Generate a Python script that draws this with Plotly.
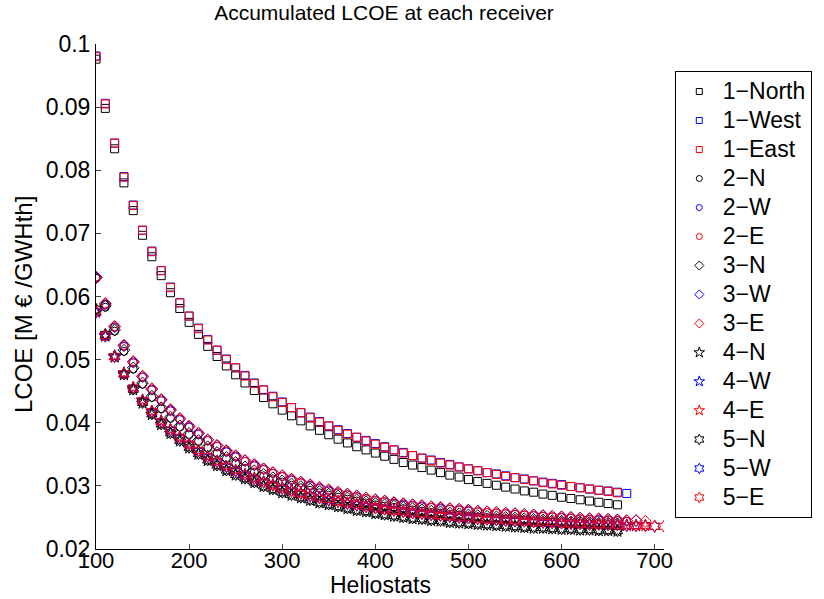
import plotly.graph_objects as go

HELIOSTATS = [100, 110, 120, 130, 140, 150, 160, 170, 180, 190,
              200, 210, 220, 230, 240, 250, 260, 270, 280, 290,
              300, 310, 320, 330, 340, 350, 360, 370, 380, 390,
              400, 410, 420, 430, 440, 450, 460, 470, 480, 490,
              500, 510, 520, 530, 540, 550, 560, 570, 580, 590,
              600, 610, 620, 630, 640, 650, 660, 670, 680, 690,
              700, 710]

r1_north = [0.0976, 0.0898, 0.0834, 0.0780, 0.0736, 0.0697, 0.0663, 0.0633, 0.0606, 0.0581,
            0.0559, 0.0540, 0.0521, 0.0505, 0.0490, 0.0476, 0.0463, 0.0451, 0.0440, 0.0430,
            0.0420, 0.0411, 0.0403, 0.0395, 0.0388, 0.0381, 0.0374, 0.0368, 0.0362, 0.0357,
            0.0352, 0.0347, 0.0342, 0.0337, 0.0333, 0.0329, 0.0325, 0.0321, 0.0317, 0.0314,
            0.0310, 0.0307, 0.0304, 0.0301, 0.0298, 0.0295, 0.0292, 0.0290, 0.0287, 0.0285,
            0.0282, 0.0280, 0.0278, 0.0276, 0.0274, 0.0272, 0.0270]
r1_west = [0.0981, 0.0906, 0.0843, 0.0790, 0.0745, 0.0705, 0.0672, 0.0641, 0.0615, 0.0590,
           0.0569, 0.0550, 0.0532, 0.0515, 0.0501, 0.0487, 0.0475, 0.0463, 0.0452, 0.0442,
           0.0433, 0.0424, 0.0416, 0.0409, 0.0402, 0.0395, 0.0389, 0.0383, 0.0377, 0.0372,
           0.0367, 0.0362, 0.0357, 0.0353, 0.0348, 0.0344, 0.0341, 0.0337, 0.0334, 0.0330,
           0.0327, 0.0324, 0.0321, 0.0319, 0.0316, 0.0313, 0.0311, 0.0308, 0.0306, 0.0304,
           0.0302, 0.0299, 0.0297, 0.0295, 0.0293, 0.0292, 0.0290, 0.0288]
r1_east = [0.0980, 0.0905, 0.0843, 0.0789, 0.0744, 0.0705, 0.0671, 0.0641, 0.0614, 0.0590,
           0.0569, 0.0549, 0.0531, 0.0515, 0.0500, 0.0487, 0.0474, 0.0462, 0.0452, 0.0441,
           0.0432, 0.0424, 0.0416, 0.0408, 0.0401, 0.0395, 0.0388, 0.0382, 0.0377, 0.0371,
           0.0366, 0.0361, 0.0357, 0.0352, 0.0348, 0.0344, 0.0340, 0.0336, 0.0333, 0.0330,
           0.0327, 0.0324, 0.0321, 0.0318, 0.0315, 0.0313, 0.0310, 0.0308, 0.0305, 0.0303,
           0.0301, 0.0299, 0.0297, 0.0295, 0.0293, 0.0291, 0.0289]

r2_n = [0.0629, 0.0583, 0.0545, 0.0513, 0.0485, 0.0461, 0.0440, 0.0422, 0.0407, 0.0393,
        0.0381, 0.0370, 0.0360, 0.0351, 0.0343, 0.0335, 0.0328, 0.0322, 0.0316, 0.0311,
        0.0306, 0.0301, 0.0297, 0.0293, 0.0289, 0.0285, 0.0282, 0.0279, 0.0276, 0.0273,
        0.0270, 0.0268, 0.0266, 0.0264, 0.0262, 0.0260, 0.0258, 0.0257, 0.0255, 0.0254,
        0.0252, 0.0251, 0.0250, 0.0249, 0.0248, 0.0247, 0.0246, 0.0245, 0.0244, 0.0243,
        0.0242, 0.0241, 0.0241, 0.0240, 0.0239, 0.0239, 0.0238]
r2_w = [0.0630, 0.0587, 0.0551, 0.0521, 0.0495, 0.0472, 0.0452, 0.0435, 0.0419, 0.0405,
        0.0393, 0.0382, 0.0372, 0.0363, 0.0354, 0.0346, 0.0339, 0.0332, 0.0326, 0.0320,
        0.0315, 0.0309, 0.0305, 0.0300, 0.0296, 0.0292, 0.0289, 0.0286, 0.0283, 0.0280,
        0.0277, 0.0275, 0.0272, 0.0270, 0.0269, 0.0267, 0.0266, 0.0264, 0.0263, 0.0262,
        0.0260, 0.0259, 0.0258, 0.0257, 0.0256, 0.0255, 0.0254, 0.0253, 0.0252, 0.0251,
        0.0250, 0.0249, 0.0248, 0.0247, 0.0246, 0.0246, 0.0245, 0.0244]
r2_e = [0.0631, 0.0588, 0.0552, 0.0522, 0.0496, 0.0473, 0.0453, 0.0436, 0.0420, 0.0406,
        0.0394, 0.0383, 0.0372, 0.0363, 0.0355, 0.0347, 0.0339, 0.0333, 0.0326, 0.0320,
        0.0315, 0.0310, 0.0305, 0.0301, 0.0297, 0.0293, 0.0289, 0.0286, 0.0283, 0.0280,
        0.0277, 0.0275, 0.0273, 0.0271, 0.0269, 0.0268, 0.0266, 0.0265, 0.0263, 0.0262,
        0.0261, 0.0259, 0.0258, 0.0257, 0.0256, 0.0255, 0.0254, 0.0253, 0.0252, 0.0251,
        0.0250, 0.0249, 0.0248, 0.0247, 0.0247, 0.0246, 0.0245, 0.0244]

r3_n = [0.0630, 0.0585, 0.0547, 0.0515, 0.0487, 0.0463, 0.0442, 0.0424, 0.0409, 0.0395,
        0.0383, 0.0372, 0.0362, 0.0353, 0.0345, 0.0337, 0.0330, 0.0324, 0.0318, 0.0313,
        0.0308, 0.0303, 0.0299, 0.0295, 0.0291, 0.0287, 0.0284, 0.0281, 0.0278, 0.0275,
        0.0272, 0.0270, 0.0268, 0.0266, 0.0264, 0.0262, 0.0260, 0.0259, 0.0257, 0.0256,
        0.0254, 0.0253, 0.0252, 0.0251, 0.0250, 0.0249, 0.0248, 0.0247, 0.0246, 0.0245,
        0.0244, 0.0243, 0.0243, 0.0242, 0.0241, 0.0241, 0.0240]
r3_w = [0.0630, 0.0588, 0.0552, 0.0522, 0.0496, 0.0473, 0.0453, 0.0436, 0.0420, 0.0406,
        0.0394, 0.0383, 0.0373, 0.0364, 0.0355, 0.0347, 0.0340, 0.0333, 0.0327, 0.0321,
        0.0316, 0.0310, 0.0306, 0.0301, 0.0297, 0.0293, 0.0290, 0.0287, 0.0284, 0.0281,
        0.0278, 0.0276, 0.0273, 0.0271, 0.0270, 0.0268, 0.0267, 0.0265, 0.0264, 0.0263,
        0.0261, 0.0260, 0.0259, 0.0258, 0.0257, 0.0256, 0.0255, 0.0254, 0.0253, 0.0252,
        0.0251, 0.0250, 0.0249, 0.0248, 0.0247, 0.0247, 0.0246, 0.0245, 0.0245]
r3_e = [0.0631, 0.0589, 0.0553, 0.0523, 0.0497, 0.0474, 0.0454, 0.0437, 0.0421, 0.0407,
        0.0395, 0.0384, 0.0373, 0.0364, 0.0356, 0.0348, 0.0340, 0.0334, 0.0327, 0.0321,
        0.0316, 0.0311, 0.0306, 0.0302, 0.0298, 0.0294, 0.0290, 0.0287, 0.0284, 0.0281,
        0.0278, 0.0276, 0.0274, 0.0272, 0.0270, 0.0269, 0.0267, 0.0266, 0.0264, 0.0263,
        0.0262, 0.0260, 0.0259, 0.0258, 0.0257, 0.0256, 0.0255, 0.0254, 0.0253, 0.0252,
        0.0251, 0.0250, 0.0249, 0.0248, 0.0248, 0.0247, 0.0246, 0.0245, 0.0245, 0.0244]

r4_n = [0.0578, 0.0538, 0.0504, 0.0476, 0.0452, 0.0431, 0.0413, 0.0397, 0.0383, 0.0371,
        0.0360, 0.0350, 0.0340, 0.0332, 0.0324, 0.0317, 0.0311, 0.0305, 0.0299, 0.0294,
        0.0289, 0.0285, 0.0281, 0.0277, 0.0273, 0.0270, 0.0267, 0.0264, 0.0261, 0.0259,
        0.0256, 0.0254, 0.0252, 0.0250, 0.0248, 0.0247, 0.0245, 0.0244, 0.0242, 0.0241,
        0.0240, 0.0239, 0.0238, 0.0237, 0.0236, 0.0235, 0.0234, 0.0233, 0.0233, 0.0232,
        0.0231, 0.0231, 0.0230, 0.0230, 0.0229, 0.0229, 0.0228]
r4_w = [0.0575, 0.0537, 0.0505, 0.0478, 0.0455, 0.0435, 0.0418, 0.0402, 0.0389, 0.0377,
        0.0366, 0.0356, 0.0346, 0.0338, 0.0331, 0.0324, 0.0317, 0.0311, 0.0306, 0.0301,
        0.0296, 0.0292, 0.0288, 0.0284, 0.0281, 0.0278, 0.0275, 0.0272, 0.0270, 0.0267,
        0.0265, 0.0263, 0.0261, 0.0259, 0.0257, 0.0256, 0.0254, 0.0253, 0.0252, 0.0250,
        0.0249, 0.0248, 0.0247, 0.0246, 0.0245, 0.0245, 0.0244, 0.0243, 0.0242, 0.0242,
        0.0241, 0.0240, 0.0240, 0.0239, 0.0239, 0.0238, 0.0238, 0.0237, 0.0237]
r4_e = [0.0576, 0.0538, 0.0506, 0.0479, 0.0456, 0.0436, 0.0418, 0.0403, 0.0389, 0.0377,
        0.0366, 0.0356, 0.0347, 0.0339, 0.0331, 0.0324, 0.0318, 0.0312, 0.0306, 0.0301,
        0.0297, 0.0292, 0.0288, 0.0285, 0.0281, 0.0278, 0.0275, 0.0273, 0.0270, 0.0268,
        0.0265, 0.0263, 0.0261, 0.0259, 0.0258, 0.0256, 0.0255, 0.0253, 0.0252, 0.0251,
        0.0250, 0.0248, 0.0247, 0.0247, 0.0246, 0.0245, 0.0244, 0.0243, 0.0243, 0.0242,
        0.0241, 0.0241, 0.0240, 0.0240, 0.0239, 0.0239, 0.0238, 0.0238, 0.0237, 0.0237]

r5_n = [0.0580, 0.0540, 0.0505, 0.0477, 0.0453, 0.0432, 0.0414, 0.0398, 0.0384, 0.0372,
        0.0361, 0.0351, 0.0341, 0.0333, 0.0325, 0.0318, 0.0312, 0.0306, 0.0300, 0.0295,
        0.0290, 0.0286, 0.0282, 0.0278, 0.0274, 0.0271, 0.0268, 0.0265, 0.0262, 0.0260,
        0.0257, 0.0255, 0.0253, 0.0251, 0.0249, 0.0248, 0.0246, 0.0245, 0.0243, 0.0242,
        0.0241, 0.0240, 0.0239, 0.0238, 0.0237, 0.0236, 0.0235, 0.0234, 0.0234, 0.0233,
        0.0232, 0.0232, 0.0231, 0.0231, 0.0230, 0.0230, 0.0229]
r5_w = [0.0575, 0.0537, 0.0505, 0.0478, 0.0455, 0.0435, 0.0417, 0.0402, 0.0388, 0.0376,
        0.0366, 0.0355, 0.0346, 0.0338, 0.0330, 0.0323, 0.0317, 0.0311, 0.0306, 0.0301,
        0.0296, 0.0292, 0.0288, 0.0284, 0.0281, 0.0277, 0.0275, 0.0272, 0.0269, 0.0267,
        0.0265, 0.0263, 0.0261, 0.0259, 0.0257, 0.0256, 0.0254, 0.0253, 0.0251, 0.0250,
        0.0249, 0.0248, 0.0247, 0.0246, 0.0245, 0.0244, 0.0244, 0.0243, 0.0242, 0.0241,
        0.0241, 0.0240, 0.0240, 0.0239, 0.0239, 0.0238, 0.0238, 0.0237, 0.0237, 0.0237,
        0.0236]
r5_e = [0.0576, 0.0538, 0.0505, 0.0478, 0.0455, 0.0435, 0.0418, 0.0402, 0.0389, 0.0377,
        0.0366, 0.0356, 0.0346, 0.0338, 0.0331, 0.0324, 0.0317, 0.0311, 0.0306, 0.0301,
        0.0296, 0.0292, 0.0288, 0.0284, 0.0281, 0.0278, 0.0275, 0.0272, 0.0270, 0.0267,
        0.0265, 0.0263, 0.0261, 0.0259, 0.0257, 0.0256, 0.0254, 0.0253, 0.0252, 0.0250,
        0.0249, 0.0248, 0.0247, 0.0246, 0.0245, 0.0245, 0.0244, 0.0243, 0.0242, 0.0242,
        0.0241, 0.0240, 0.0240, 0.0239, 0.0239, 0.0238, 0.0238, 0.0237, 0.0237, 0.0237,
        0.0236, 0.0236]

SERIES_NAMES = ["1\u2212North", "1\u2212West", "1\u2212East",
                "2\u2212N", "2\u2212W", "2\u2212E",
                "3\u2212N", "3\u2212W", "3\u2212E",
                "4\u2212N", "4\u2212W", "4\u2212E",
                "5\u2212N", "5\u2212W", "5\u2212E"]
SERIES_VALUES = [r1_north, r1_west, r1_east, r2_n, r2_w, r2_e,
                 r3_n, r3_w, r3_e, r4_n, r4_w, r4_e, r5_n, r5_w, r5_e]

X_TICKS = [100, 200, 300, 400, 500, 600, 700]
Y_TICKS = [0.02, 0.03, 0.04, 0.05, 0.06, 0.07, 0.08, 0.09, 0.1]
Y_TICK_TEXT = ["0.02", "0.03", "0.04", "0.05", "0.06", "0.07", "0.08", "0.09", "0.1"]

TITLE = "Accumulated LCOE at each receiver"
X_TITLE = "Heliostats"
Y_TITLE = "LCOE [M \u20ac /GWHth]"

COLORS = ["#000000", "#0000ff", "#ff0000"]
SYMBOLS = ["square-open", "circle-open", "diamond-open", "star-open", "hexagram-open"]
SIZES = [8, 8, 9, 9, 9]
LEG_SIZES = [6, 6, 7, 8, 8]

FONT = "Liberation Sans, Arial, Helvetica, sans-serif"

fig = go.Figure()
for i, (name, vals) in enumerate(zip(SERIES_NAMES, SERIES_VALUES)):
    g, c = divmod(i, 3)
    fig.add_trace(go.Scatter(
        x=HELIOSTATS[:len(vals)], y=vals, mode="markers", name=name,
        showlegend=False,
        marker=dict(symbol=SYMBOLS[g], size=SIZES[g], color=COLORS[c],
                    line=dict(color=COLORS[c], width=1)),
    ))
# legend entries (smaller markers, larger text, as in the reference legend)
for i, name in enumerate(SERIES_NAMES):
    g, c = divmod(i, 3)
    fig.add_trace(go.Scatter(
        x=[None], y=[None], mode="markers",
        name='<span style="font-size:23px">' + name + '</span>', showlegend=True,
        marker=dict(symbol=SYMBOLS[g], size=LEG_SIZES[g], color=COLORS[c],
                    line=dict(color=COLORS[c], width=1)),
    ))

fig.update_layout(
    width=824, height=599,
    margin=dict(l=96, r=152, t=44, b=50),
    paper_bgcolor="white", plot_bgcolor="white",
    font=dict(family=FONT, size=23, color="black"),
    title=dict(text=TITLE, x=0.466, xanchor="center",
               y=1 - 13 / 599, yanchor="middle", font=dict(size=21, family=FONT)),
    showlegend=True,
    legend=dict(x=1.019, xanchor="left", y=(549 - 71) / 505, yanchor="top",
                bordercolor="black", borderwidth=1, bgcolor="white",
                font=dict(size=20, family=FONT), itemwidth=37),
    annotations=[
        dict(text=X_TITLE, xref="paper", yref="paper", x=0.5, y=-49.5 / 505,
             xanchor="center", yanchor="bottom", showarrow=False, borderpad=0,
             font=dict(size=23, family=FONT)),
        dict(text=Y_TITLE, xref="paper", yref="paper", x=-74 / 576, y=(549 - 305) / 505,
             xanchor="center", yanchor="middle", textangle=-90, showarrow=False,
             font=dict(size=24, family=FONT)),
    ],
)
fig.update_xaxes(
    range=[100, 710], tickvals=X_TICKS, ticks="inside", ticklen=5, automargin=False,
    showline=True, linecolor="black", linewidth=1, showgrid=False, zeroline=False,
    mirror=False, tickfont=dict(size=22, family=FONT), ticklabelstandoff=-8,
)
fig.update_yaxes(
    range=[0.02, 0.1], tickvals=Y_TICKS, ticktext=Y_TICK_TEXT, ticks="inside", ticklen=5,
    automargin=False,
    showline=True, linecolor="black", linewidth=1, showgrid=False, zeroline=False,
    mirror=False, tickfont=dict(size=23, family=FONT),
)

fig.write_html("out.html")
